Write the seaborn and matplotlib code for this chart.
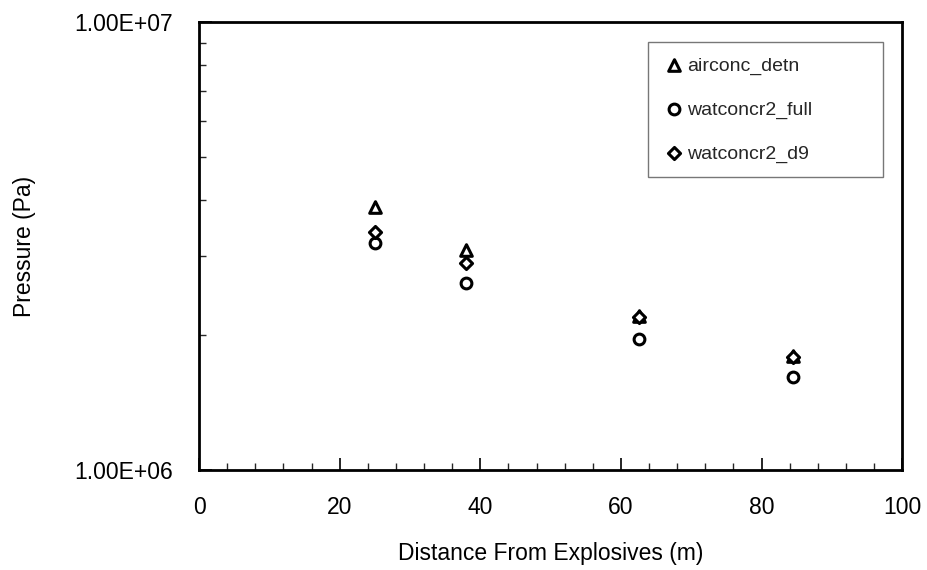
import matplotlib
matplotlib.use("Agg")
import matplotlib.pyplot as plt
import seaborn as sns
import numpy as np
from matplotlib.ticker import FixedLocator, MultipleLocator, NullFormatter

# values
distance = [25, 38, 62.5, 84.5]
airconc_detn = [3.86e6, 3.10e6, 2.21e6, 1.80e6]
watconcr2_full = [3.21e6, 2.61e6, 1.96e6, 1.61e6]
watconcr2_d9 = [3.40e6, 2.90e6, 2.20e6, 1.79e6]

series = [
	("airconc_detn", airconc_detn, "^"),
	("watconcr2_full", watconcr2_full, "o"),
	("watconcr2_d9", watconcr2_d9, "D"),
]
marker_size = {"^": 70, "o": 60, "D": 38}

sns.set_theme(style="white")
plt.rcParams["font.family"] = ["Liberation Sans", "DejaVu Sans"]

fig = plt.figure(figsize=(9.27, 5.70), dpi=100)
ax = fig.add_axes([0.2147, 0.1754, 0.7586, 0.786])

for name, vals, m in series:
	sns.scatterplot(ax=ax, x=distance, y=vals, marker=m, s=marker_size[m],
					color="white", edgecolor="black", linewidth=2.2, label=name)

ax.set_yscale("log")
ax.set_xlim(0, 100)
ax.set_ylim(1e6, 1e7)

ax.xaxis.set_major_locator(MultipleLocator(20))
ax.xaxis.set_minor_locator(MultipleLocator(4))
ax.yaxis.set_major_locator(FixedLocator([1e6, 1e7]))
ax.yaxis.set_minor_locator(FixedLocator(np.arange(2, 10) * 1e6))
ax.yaxis.set_minor_formatter(NullFormatter())
ax.set_yticklabels(["1.00E+06", "1.00E+07"])

ax.tick_params(axis="both", which="major", direction="in", length=9, width=1.2,
			   labelsize=16.5, colors="black", bottom=True, left=True)
ax.tick_params(axis="both", which="minor", direction="in", length=5, width=1.0,
			   bottom=True, left=True)
ax.tick_params(axis="x", which="major", pad=19)
ax.tick_params(axis="y", which="major", pad=19)

for sp in ax.spines.values():
	sp.set_color("black")
	sp.set_linewidth(2)

ax.set_xlabel("Distance From Explosives (m)", fontsize=16.5, color="black", labelpad=16)
ax.set_ylabel("Pressure (Pa)", fontsize=16.5, color="black", labelpad=27)

leg = ax.legend(loc="upper left", bbox_to_anchor=(0.639, 0.661, 0.334, 0.294),
				mode="expand", fontsize=14, labelspacing=1.35, handletextpad=0.15,
				handlelength=1.1, borderpad=0.75, borderaxespad=0, frameon=True,
				fancybox=False)
leg.get_frame().set_edgecolor("#555555")
leg.get_frame().set_linewidth(1)

fig.savefig("out.png", dpi=100)
